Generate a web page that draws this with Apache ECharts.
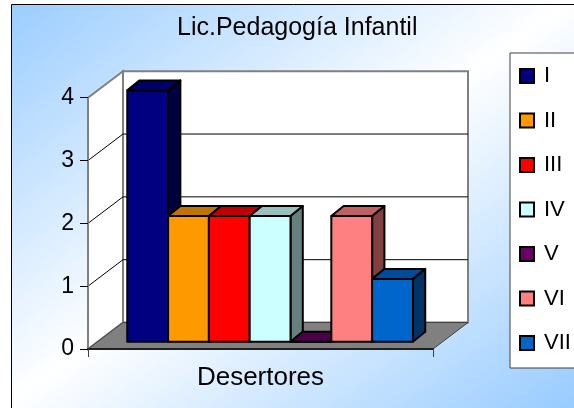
<!DOCTYPE html>
<html lang="es">

<head>
    <meta charset="UTF-8">
    <title>Lic.Pedagogía Infantil</title>
    <script src="https://cdn.jsdelivr.net/npm/echarts/dist/echarts.min.js"></script>
    <style>
        body {
            margin: 0;
            background: #fff;
        }

        #main {
            width: 574px;
            height: 408px;
        }
    </style>
</head>

<body>
    <div id="main"></div>

    <script>
        // datos
        const categories = ['Desertores'];
        const levels = ['I', 'II', 'III', 'IV', 'V', 'VI', 'VII'];
        const values = [4, 2, 2, 2, 0, 2, 1];
        const yTicks = [0, 1, 2, 3, 4];

        // colores de cada barra: frente, tapa, lado
        const frontColors = ['#000080', '#FF9900', '#FF0000', '#CCFFFF', '#660066', '#FF8080', '#0066CC'];
        const topColors = ['#000066', '#C07300', '#C00000', '#99BFBF', '#4C004C', '#C06060', '#004C99'];
        const sideColors = ['#000040', '#804C00', '#800000', '#668080', '#330033', '#804040', '#003366'];

        // desplazamientos de profundidad (px)
        const BACK = [35, -26.5];
        const BAR_FRONT = [9.6, -7.3];
        const BAR_DEPTH = [12.3, -10];
        const GROUP = 0.828;

        const myChart = echarts.init(document.getElementById('main'));

        function wallsItem(params, api) {
            const base = api.coord([0, yTicks[0]]);
            const top = api.coord([0, yTicks[yTicks.length - 1]]);
            const band = api.size([1, 0])[0];
            const L = base[0] - band / 2;
            const R = base[0] + band / 2;
            const yb = base[1];
            const yt = top[1];
            const children = [];
            // pared izquierda
            children.push({
                type: 'polygon',
                shape: { points: [[L, yb], [L, yt], [L + BACK[0], yt + BACK[1]], [L + BACK[0], yb + BACK[1]]] },
                style: { fill: '#fff', stroke: '#808080', lineWidth: 2 }
            });
            // pared del fondo
            children.push({
                type: 'rect',
                shape: { x: L + BACK[0], y: yt + BACK[1], width: R - L, height: yb - yt },
                style: { fill: '#fff', stroke: '#808080', lineWidth: 2 }
            });
            // lineas de division
            yTicks.slice(1, -1).forEach(v => {
                const y = api.coord([0, v])[1];
                children.push({
                    type: 'polyline',
                    shape: { points: [[L, y], [L + BACK[0], y + BACK[1]], [R + BACK[0], y + BACK[1]]] },
                    style: { fill: null, stroke: '#000', lineWidth: 1 }
                });
            });
            // piso
            children.push({
                type: 'polygon',
                shape: { points: [[L, yb], [R, yb], [R + BACK[0], yb + BACK[1]], [L + BACK[0], yb + BACK[1]]] },
                style: { fill: '#808080', stroke: '#404040', lineWidth: 1 }
            });
            return { type: 'group', children: children };
        }

        function barItem(idx) {
            return function (params, api) {
                const base = api.coord([0, 0]);
                const top = api.coord([0, api.value(1)]);
                const band = api.size([1, 0])[0];
                const slot = band * GROUP / levels.length;
                const x0 = base[0] - band * GROUP / 2 + idx * slot + BAR_FRONT[0];
                const x1 = x0 + slot;
                const yb = base[1] + BAR_FRONT[1];
                const yt = top[1] + BAR_FRONT[1];
                const dx = BAR_DEPTH[0], dy = BAR_DEPTH[1];
                const edge = { stroke: '#000', lineWidth: 2, lineJoin: 'round' };
                return {
                    type: 'group',
                    children: [{
                        type: 'polygon',
                        shape: { points: [[x1, yt], [x1 + dx, yt + dy], [x1 + dx, yb + dy], [x1, yb]] },
                        style: Object.assign({ fill: sideColors[idx] }, edge)
                    }, {
                        type: 'polygon',
                        shape: { points: [[x0, yt], [x1, yt], [x1 + dx, yt + dy], [x0 + dx, yt + dy]] },
                        style: Object.assign({ fill: topColors[idx] }, edge)
                    }, {
                        type: 'rect',
                        shape: { x: x0, y: yt, width: slot, height: yb - yt },
                        style: Object.assign({ fill: frontColors[idx] }, edge)
                    }]
                };
            };
        }

        const series = [{
            name: 'walls',
            type: 'custom',
            clip: false,
            z: 1,
            silent: true,
            renderItem: wallsItem,
            data: [[0, 0]]
        }];
        levels.forEach((name, i) => {
            series.push({
                name: name,
                type: 'custom',
                clip: false,
                z: 2 + i,
                itemStyle: { color: frontColors[i] },
                renderItem: barItem(i),
                data: [[0, values[i]]]
            });
        });

        const option = {
            animation: false,
            color: frontColors,
            textStyle: { fontFamily: 'Liberation Sans' },
            graphic: [{
                type: 'rect',
                z: -10,
                silent: true,
                shape: { x: 11.5, y: 4.5, width: 620, height: 430 },
                style: {
                    fill: {
                        type: 'linear', global: true,
                        x: 96, y: -63, x2: 478, y2: 471,
                        colorStops: [
                            { offset: 0, color: '#99CCFF' },
                            { offset: 0.5, color: '#FFFFFF' },
                            { offset: 1, color: '#99CCFF' }
                        ]
                    },
                    stroke: '#000',
                    lineWidth: 1
                }
            }],
            title: {
                text: 'Lic.Pedagogía Infantil',
                left: 177,
                top: 16,
                padding: 0,
                textStyle: { fontSize: 25, fontWeight: 'normal', color: '#000', fontFamily: 'Liberation Sans' }
            },
            legend: {
                orient: 'vertical',
                left: 510,
                top: 53,
                padding: [12, 60, 14, 9],
                itemGap: 22.5,
                itemWidth: 14,
                itemHeight: 14,
                icon: 'rect',
                backgroundColor: '#fff',
                borderColor: '#404040',
                borderWidth: 1,
                borderRadius: 0,
                data: levels,
                itemStyle: { borderColor: '#000', borderWidth: 2 },
                textStyle: { fontSize: 22, color: '#000', padding: [0, 0, 0, 5], fontFamily: 'Liberation Sans' }
            },
            grid: {
                left: 88,
                right: 141,
                top: 97.7,
                bottom: 59
            },
            xAxis: {
                type: 'category',
                data: categories,
                z: 10,
                axisLine: { lineStyle: { color: '#202020', width: 2 } },
                axisTick: { show: true, length: 8, lineStyle: { color: '#404040', width: 1 } },
                axisLabel: { fontSize: 26, color: '#000', margin: 16 }
            },
            yAxis: {
                type: 'value',
                min: yTicks[0],
                max: yTicks[yTicks.length - 1],
                interval: 1,
                z: 10,
                axisLine: { show: true, lineStyle: { color: '#808080', width: 2 } },
                axisTick: { show: true, length: 8, lineStyle: { color: '#000', width: 1 } },
                axisLabel: { fontSize: 23, color: '#000', margin: 14 },
                splitLine: { show: false }
            },
            series: series
        };

        myChart.setOption(option);
    </script>
</body>

</html>
